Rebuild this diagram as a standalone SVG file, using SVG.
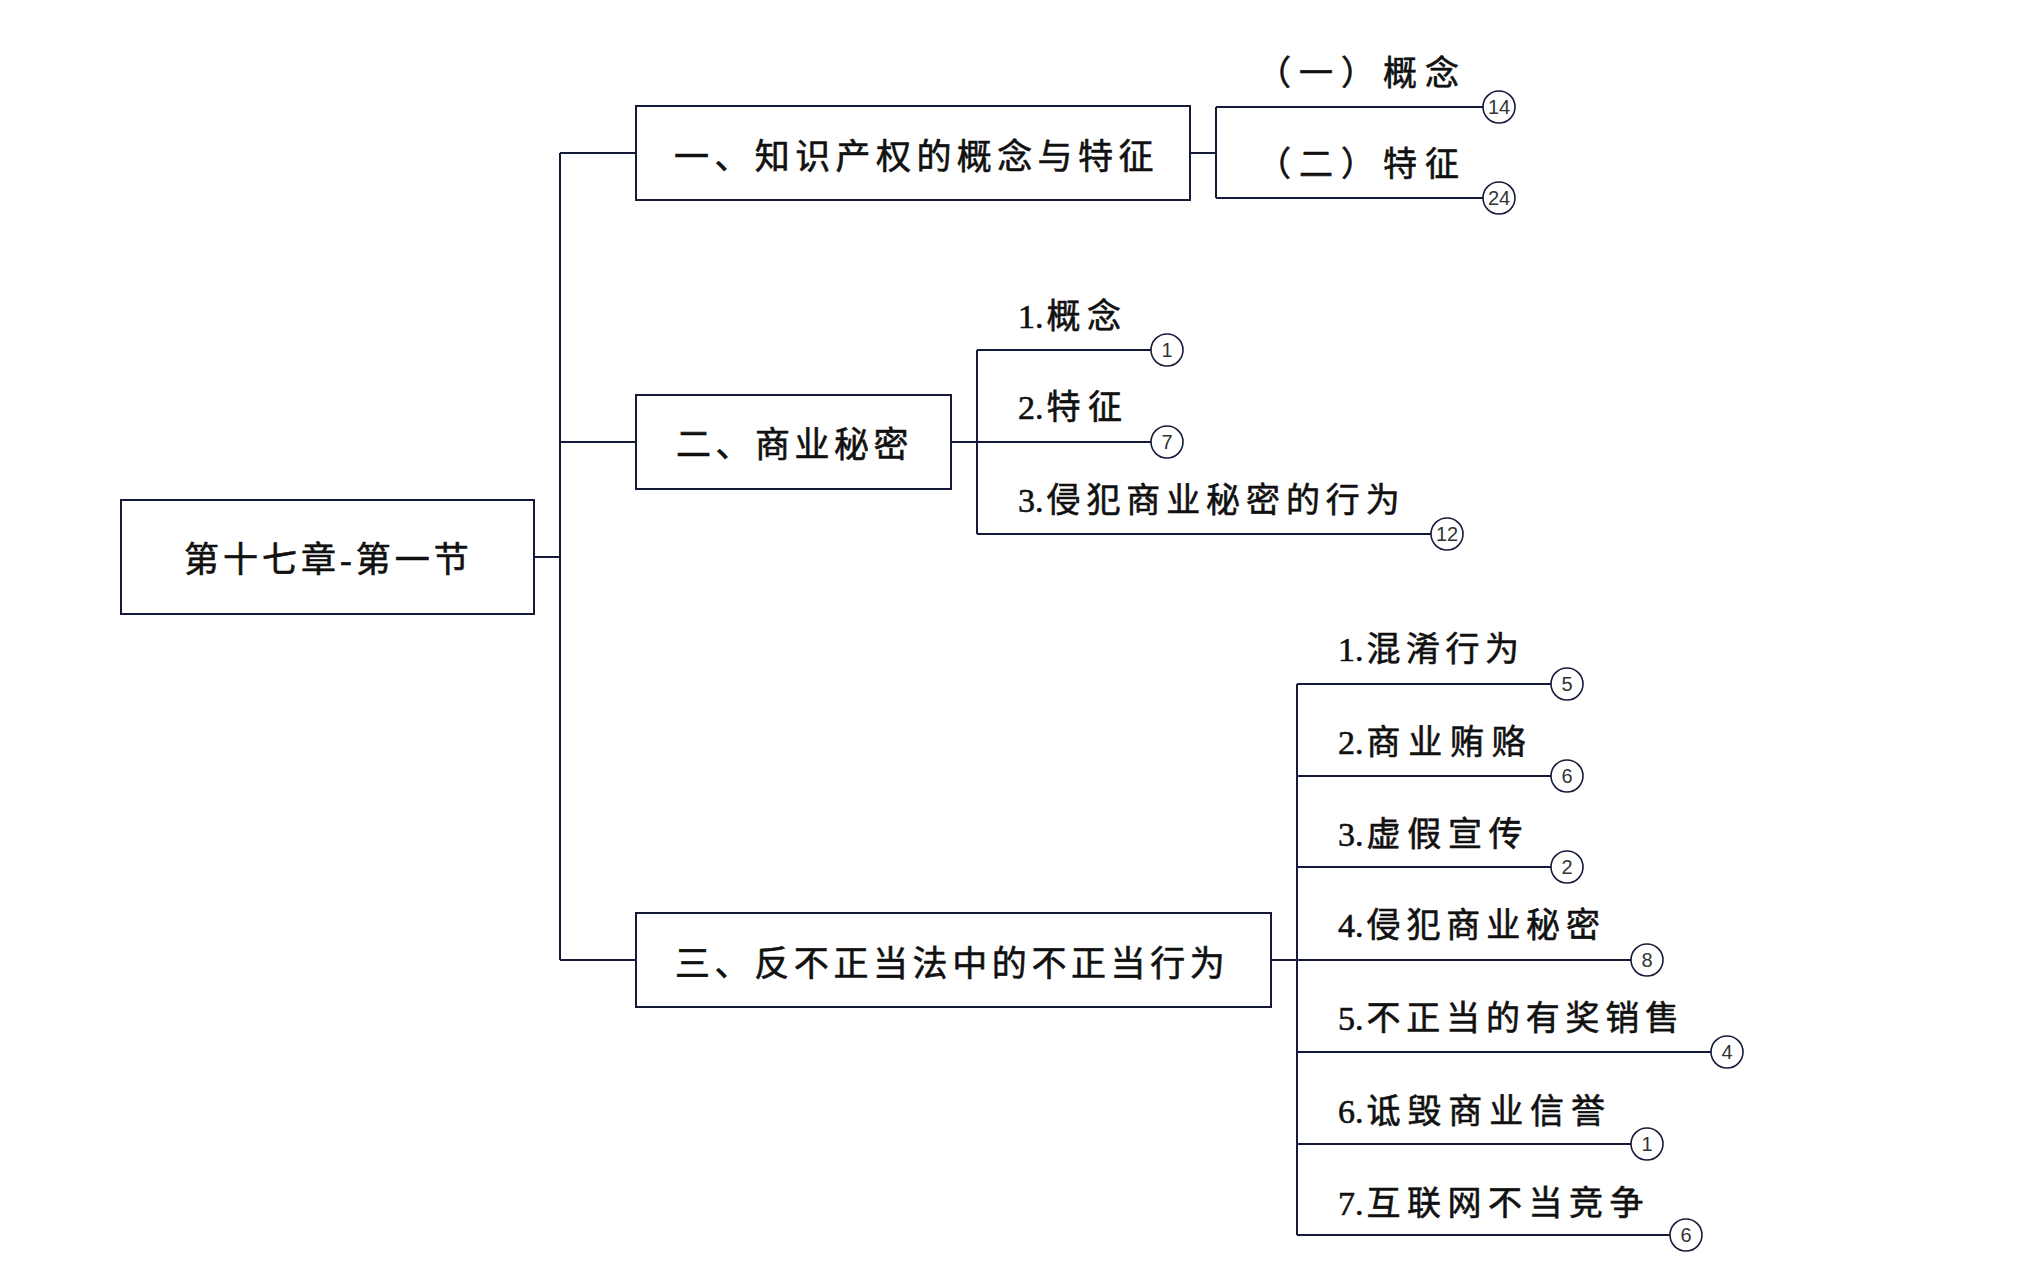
<svg xmlns="http://www.w3.org/2000/svg" width="2024" height="1265" viewBox="0 0 2024 1265">
<style>
.box{fill:#fff;stroke:#151a3a;stroke-width:2}
.ln{fill:none;stroke:#151a3a;stroke-width:2}
.t{font-family:"Liberation Serif","Noto Sans CJK SC",serif;font-size:34px;fill:#111;stroke:#111;stroke-width:0.6}
.bt{font-family:"Liberation Serif","Noto Sans CJK SC",serif;font-size:35px;fill:#111;stroke:#111;stroke-width:0.6}
.c{fill:#fff;stroke:#151a3a;stroke-width:1.6}
.n{font-family:"Liberation Sans",Arial,sans-serif;font-size:20px;fill:#333;text-anchor:middle}
</style>
<rect width="2024" height="1265" fill="#fff"/>
<g id="connectors">
<path class="ln" d="M534 557H560M560 153V960M560 153H636M560 442H636M560 960H636"/>
<path class="ln" d="M1190 153H1216M1216 107V198M1216 107H1483M1216 198H1483"/>
<path class="ln" d="M951 442H977M977 350V534M977 350H1151M977 442H1151M977 534H1431"/>
<path class="ln" d="M1271 960H1297M1297 684V1235M1297 684H1551M1297 776H1551M1297 867H1551M1297 960H1631M1297 1052H1711M1297 1144H1631M1297 1235H1670"/>
</g>
<g id="root">
<rect class="box" x="121" y="500" width="413" height="114"/>
<text class="bt" x="184" y="572" letter-spacing="4">第十七章-第一节</text>
</g>
<g id="n1">
<rect class="box" x="636" y="106" width="554" height="94"/>
<text class="bt" x="674" y="169" letter-spacing="5.4">一、知识产权的概念与特征</text>
</g>
<g id="n1a">
<text class="t" x="1257" y="85" letter-spacing="8">（一）概念</text>
<circle class="c" cx="1499" cy="107" r="16"/><text class="n" x="1499" y="114">14</text>
</g>
<g id="n1b">
<text class="t" x="1257" y="176" letter-spacing="8">（二）特征</text>
<circle class="c" cx="1499" cy="198" r="16"/><text class="n" x="1499" y="205">24</text>
</g>
<g id="n2">
<rect class="box" x="636" y="395" width="315" height="94"/>
<text class="bt" x="676" y="457" letter-spacing="4.5">二、商业秘密</text>
</g>
<g id="n2a">
<text class="t" x="1018" y="328">1.<tspan dx="3" letter-spacing="6.5">概念</tspan></text>
<circle class="c" cx="1167" cy="350" r="16"/><text class="n" x="1167" y="357">1</text>
</g>
<g id="n2b">
<text class="t" x="1018" y="419">2.<tspan dx="3" letter-spacing="7.5">特征</tspan></text>
<circle class="c" cx="1167" cy="442" r="16"/><text class="n" x="1167" y="449">7</text>
</g>
<g id="n2c">
<text class="t" x="1018" y="512">3.<tspan dx="3" letter-spacing="5.9">侵犯商业秘密的行为</tspan></text>
<circle class="c" cx="1447" cy="534" r="16"/><text class="n" x="1447" y="541">12</text>
</g>
<g id="n3">
<rect class="box" x="636" y="913" width="635" height="94"/>
<text class="bt" x="675" y="976" letter-spacing="4.6">三、反不正当法中的不正当行为</text>
</g>
<g id="n3a">
<text class="t" x="1338" y="661">1.<tspan dx="3" letter-spacing="5.5">混淆行为</tspan></text>
<circle class="c" cx="1567" cy="684" r="16"/><text class="n" x="1567" y="691">5</text>
</g>
<g id="n3b">
<text class="t" x="1338" y="754">2.<tspan dx="3" letter-spacing="7.7">商业贿赂</tspan></text>
<circle class="c" cx="1567" cy="776" r="16"/><text class="n" x="1567" y="783">6</text>
</g>
<g id="n3c">
<text class="t" x="1338" y="846">3.<tspan dx="3" letter-spacing="6.7">虚假宣传</tspan></text>
<circle class="c" cx="1567" cy="867" r="16"/><text class="n" x="1567" y="874">2</text>
</g>
<g id="n3d">
<text class="t" x="1338" y="937">4.<tspan dx="3" letter-spacing="5.9">侵犯商业秘密</tspan></text>
<circle class="c" cx="1647" cy="960" r="16"/><text class="n" x="1647" y="967">8</text>
</g>
<g id="n3e">
<text class="t" x="1338" y="1030">5.<tspan dx="3" letter-spacing="5.8">不正当的有奖销售</tspan></text>
<circle class="c" cx="1727" cy="1052" r="16"/><text class="n" x="1727" y="1059">4</text>
</g>
<g id="n3f">
<text class="t" x="1338" y="1123">6.<tspan dx="3" letter-spacing="6.9">诋毁商业信誉</tspan></text>
<circle class="c" cx="1647" cy="1144" r="16"/><text class="n" x="1647" y="1151">1</text>
</g>
<g id="n3g">
<text class="t" x="1338" y="1215">7.<tspan dx="3" letter-spacing="6.5">互联网不当竞争</tspan></text>
<circle class="c" cx="1686" cy="1235" r="16"/><text class="n" x="1686" y="1242">6</text>
</g>
</svg>
